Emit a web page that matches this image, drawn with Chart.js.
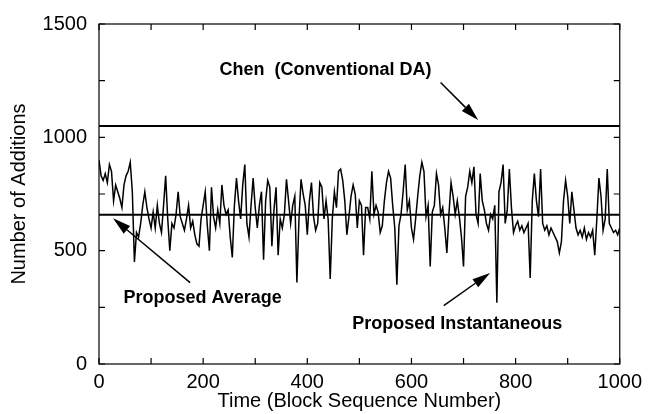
<!DOCTYPE html>
<html>
<head>
<meta charset="utf-8">
<style>
  html, body { margin: 0; padding: 0; background: #fff; }
  canvas { display: block; }
</style>
<script src="https://cdn.jsdelivr.net/npm/chart.js@4/dist/chart.umd.min.js"></script>
</head>
<body>
<canvas id="addsChart" width="648" height="414"></canvas>
<script>
// block numbers are sampled every 4 blocks, 0..1000
const blockStep = 4;

// instantaneous number of additions
const instAdds = [
  // 0 - 252
  900,830,810,840,800,880,850,720,790,760,730,690,790,830,850,890,760,450,580,560,620,700,760,690,640,600,670,600,700,620,580,700,
  830,640,500,620,600,660,760,650,620,590,640,700,600,630,570,530,520,640,700,760,610,500,780,650,600,680,620,790,700,660,680,560,
  // 256 - 500
  470,700,820,720,640,790,880,620,560,700,820,690,600,700,760,460,720,810,780,520,680,780,480,640,600,660,815,720,620,700,740,
  360,640,815,750,700,570,720,800,650,590,620,800,780,640,720,640,375,640,760,690,850,860,810,720,570,650,740,790,750,600,720,
  // 504 - 752
  700,480,690,690,640,850,660,700,670,580,610,720,800,850,820,700,600,350,610,660,760,880,680,720,600,550,640,740,830,890,850,650,
  700,430,670,700,840,790,660,690,600,490,660,800,740,660,720,650,560,430,740,780,850,800,870,660,620,840,720,680,620,590,660,
  // 756 - 1000
  640,700,270,760,800,880,620,680,860,690,580,610,630,590,610,580,600,620,380,720,840,720,650,860,620,590,610,570,600,580,560,
  540,490,540,720,810,740,620,760,680,600,570,590,560,600,550,580,560,590,480,640,820,740,590,640,860,620,600,580,590,570,600
];

const chenAdds = 1050;   // Chen (conventional DA)
const avgAdds = 658;     // proposed, average

const xTickMarks = [0, 100, 200, 300, 400, 500, 600, 700, 800, 900, 1000];
const yTickMarks = [0, 250, 500, 750, 1000, 1250, 1500];

// labels with arrows: [text, x, y] in data units, arrow [fromX, fromY, toX, toY]
const notes = [
  { text: 'Chen  (Conventional DA)', at: [435, 1299], arrow: [656, 1242, 728, 1076] },
  { text: 'Proposed Average',        at: [199, 293],  arrow: [175, 359, 27, 643] },
  { text: 'Proposed Instantaneous',  at: [688, 177],  arrow: [662, 258, 751, 402] }
];

const FONT = 'Liberation Sans, Arial, Helvetica, sans-serif';

const instPoints = instAdds.map((v, i) => ({ x: i * blockStep, y: v }));

function drawArrow(ctx, x1, y1, x2, y2) {
  const ang = Math.atan2(y2 - y1, x2 - x1);
  const len = 18, half = 5;
  const bx = x2 - len * Math.cos(ang), by = y2 - len * Math.sin(ang);
  ctx.beginPath();
  ctx.moveTo(x1, y1);
  ctx.lineTo(bx, by);
  ctx.stroke();
  ctx.beginPath();
  ctx.moveTo(x2, y2);
  ctx.lineTo(bx + half * Math.sin(ang), by - half * Math.cos(ang));
  ctx.lineTo(bx - half * Math.sin(ang), by + half * Math.cos(ang));
  ctx.closePath();
  ctx.fill();
}

// frame, inward ticks, and the arrow labels
const framePlugin = {
  id: 'frame',
  afterDraw(chart) {
    const { ctx, chartArea: a, scales: { x, y } } = chart;
    ctx.save();
    ctx.strokeStyle = '#000';
    ctx.fillStyle = '#000';
    ctx.lineWidth = 1.2;
    ctx.strokeRect(a.left, a.top, a.right - a.left, a.bottom - a.top);
    const t = 6;
    ctx.beginPath();
    xTickMarks.forEach(v => {
      const px = x.getPixelForValue(v);
      ctx.moveTo(px, a.bottom); ctx.lineTo(px, a.bottom - t);
      ctx.moveTo(px, a.top); ctx.lineTo(px, a.top + t);
    });
    yTickMarks.forEach(v => {
      const py = y.getPixelForValue(v);
      ctx.moveTo(a.left, py); ctx.lineTo(a.left + t, py);
      ctx.moveTo(a.right, py); ctx.lineTo(a.right - t, py);
    });
    ctx.stroke();

    ctx.font = 'bold 18px ' + FONT;
    ctx.textAlign = 'center';
    ctx.textBaseline = 'middle';
    ctx.lineWidth = 1.5;
    notes.forEach(n => {
      ctx.fillText(n.text, x.getPixelForValue(n.at[0]), y.getPixelForValue(n.at[1]));
      const [fx, fy, tx, ty] = n.arrow;
      drawArrow(ctx, x.getPixelForValue(fx), y.getPixelForValue(fy),
                     x.getPixelForValue(tx), y.getPixelForValue(ty));
    });
    ctx.restore();
  }
};

new Chart(document.getElementById('addsChart'), {
  type: 'line',
  data: {
    datasets: [
      {
        label: 'Proposed Instantaneous',
        data: instPoints,
        borderColor: '#000',
        borderWidth: 1.5,
        pointRadius: 0,
        tension: 0
      },
      {
        label: 'Chen (Conventional DA)',
        data: [{ x: 0, y: chenAdds }, { x: 1000, y: chenAdds }],
        borderColor: '#000',
        borderWidth: 2,
        pointRadius: 0
      },
      {
        label: 'Proposed Average',
        data: [{ x: 0, y: avgAdds }, { x: 1000, y: avgAdds }],
        borderColor: '#000',
        borderWidth: 2,
        pointRadius: 0
      }
    ]
  },
  options: {
    responsive: false,
    animation: false,
    layout: { padding: { left: 0, right: 23, top: 20, bottom: 0 } },
    plugins: {
      legend: { display: false },
      tooltip: { enabled: false }
    },
    scales: {
      x: {
        type: 'linear',
        min: 0,
        max: 1000,
        grid: { display: false, drawTicks: false },
        border: { display: false },
        ticks: { stepSize: 200, padding: 6, color: '#000', font: { family: FONT, size: 20 }, maxRotation: 0,
                 callback: v => String(v) },
        title: { display: true, text: 'Time (Block Sequence Number)', color: '#000',
                 font: { family: FONT, size: 20 }, padding: { top: 0, bottom: 1 } },
        afterFit(s) { s.height = 50; }
      },
      y: {
        min: 0,
        max: 1500,
        grid: { display: false, drawTicks: false },
        border: { display: false },
        ticks: { stepSize: 500, padding: 12, color: '#000', font: { family: FONT, size: 20 },
                 callback: v => String(v) },
        title: { display: true, text: 'Number of Additions', color: '#000',
                 font: { family: FONT, size: 20 }, padding: { top: 7, bottom: 0 } },
        afterFit(s) { s.width = 99; }
      }
    }
  },
  plugins: [framePlugin]
});
</script>
</body>
</html>
